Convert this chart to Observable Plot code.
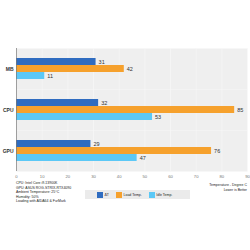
<!DOCTYPE html>
<html><head><meta charset="utf-8">
<script src="https://cdn.jsdelivr.net/npm/d3@7"></script>
<script src="https://cdn.jsdelivr.net/npm/@observablehq/plot@0.6"></script>
<style>
body{margin:0;background:#fff;font-family:"Liberation Sans",Arial,sans-serif;}
#wrap{position:relative;width:250px;height:250px;overflow:hidden;}
.cap{position:absolute;left:16px;top:181px;font-size:3.5px;line-height:4.5px;color:#222;white-space:nowrap;}
.right{position:absolute;right:3px;top:183px;font-size:3.5px;line-height:4.5px;color:#222;text-align:right;white-space:nowrap;}
.legend{position:absolute;left:85px;top:190px;width:105px;height:9px;background:#ebebeb;display:flex;align-items:center;font-size:3.5px;color:#222;}
.legend .item{display:flex;align-items:center;margin-left:7px;}
.legend .item:first-child{margin-left:12px;}
.legend .sw{width:6px;height:6px;margin-right:1.5px;}
</style></head>
<body><div id="wrap"></div>
<script>
const categories = ["MB", "CPU", "GPU"];
const series = ["ΔT", "Load Temp.", "Idle Temp."];
const deltaT = [31, 32, 29];
const loadTemp = [42, 85, 76];
const idleTemp = [11, 53, 47];
const xTicks = [0, 10, 20, 30, 40, 50, 60, 70, 80, 90];
const colors = ["#2f6cc0", "#f6a12d", "#5cc8f6"];
const captionLines = ["CPU: Intel Core i9-13900K", "GPU: ASUS ROG-STRIX-RTX4090", "Ambient Temperature: 25°C", "Humidity: 50%", "Loading with AIDA64 & FurMark"];
const noteLines = ["Temperature - Degree C", "Lower is Better"];

const valuesBySeries = [deltaT, loadTemp, idleTemp];
const data = [];
categories.forEach((c, i) => series.forEach((s, j) => data.push({cat: c, ser: s, value: valuesBySeries[j][i]})));

const chart = Plot.plot({
  width: 250, height: 181,
  marginTop: 47, marginBottom: 9, marginLeft: 16, marginRight: 3,
  style: {fontFamily: "Liberation Sans, Arial, sans-serif", background: "transparent"},
  x: {domain: [0, 90], axis: null},
  y: {domain: series, axis: null, paddingInner: 0.04, paddingOuter: 1.4},
  fy: {domain: categories, padding: 0, axis: null},
  color: {domain: series, range: colors},
  marks: [
    Plot.frame({fill: "#efefef", stroke: null}),
    Plot.gridX(xTicks, {stroke: "#f8f8f8", strokeOpacity: 1, strokeWidth: 0.6}),
    Plot.barX(data, {fy: "cat", y: "ser", x: "value", fill: "ser"}),
    Plot.text(data, {fy: "cat", y: "ser", x: "value", text: d => String(d.value), dx: 2.5, textAnchor: "start", fontSize: 5.5, fill: "#333"}),
    Plot.ruleX([0], {stroke: "#777", strokeWidth: 0.7}),
    Plot.axisFy({anchor: "left", tickSize: 0, tickPadding: 3, fontSize: 5, fontWeight: "bold", label: null, fill: "#333"}),
    Plot.axisX({anchor: "bottom", ticks: xTicks, tickSize: 0, tickPadding: 4, fontSize: 4.2, label: null, fill: "#777"})
  ]
});
const wrap = document.getElementById("wrap");
wrap.appendChild(chart);

const cap = document.createElement("div");
cap.className = "cap";
cap.innerHTML = captionLines.map(t => `<div>${t.replace(/&/g, "&amp;")}</div>`).join("");
wrap.appendChild(cap);

const note = document.createElement("div");
note.className = "right";
note.innerHTML = noteLines.map(t => `<div>${t}</div>`).join("");
wrap.appendChild(note);

const leg = document.createElement("div");
leg.className = "legend";
leg.innerHTML = series.map((s, i) => `<div class="item"><div class="sw" style="background:${colors[i]}"></div><span>${s}</span></div>`).join("");
wrap.appendChild(leg);
</script></body></html>
